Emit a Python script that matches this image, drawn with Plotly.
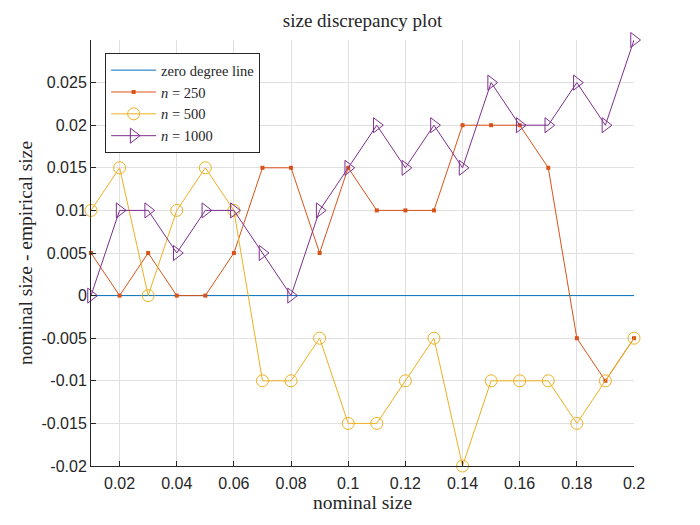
import plotly.graph_objects as go

nominal = [0.01, 0.02, 0.03, 0.04, 0.05, 0.06, 0.07, 0.08, 0.09, 0.10,
           0.11, 0.12, 0.13, 0.14, 0.15, 0.16, 0.17, 0.18, 0.19, 0.20]
zero_line = [0.0] * len(nominal)
n250 = [0.005, 0, 0.005, 0, 0, 0.005, 0.015, 0.015, 0.005, 0.015,
        0.01, 0.01, 0.01, 0.02, 0.02, 0.02, 0.015, -0.005, -0.01, -0.005]
n500 = [0.01, 0.015, 0, 0.01, 0.015, 0.01, -0.01, -0.01, -0.005, -0.015,
        -0.015, -0.01, -0.005, -0.02, -0.01, -0.01, -0.01, -0.015, -0.01, -0.005]
n1000 = [0, 0.01, 0.01, 0.005, 0.01, 0.01, 0.005, 0, 0.01, 0.015,
         0.02, 0.015, 0.02, 0.015, 0.025, 0.02, 0.02, 0.025, 0.02, 0.03]

xticks = [0.02, 0.04, 0.06, 0.08, 0.1, 0.12, 0.14, 0.16, 0.18, 0.2]
yticks = [-0.02, -0.015, -0.01, -0.005, 0, 0.005, 0.01, 0.015, 0.02, 0.025]

serif = "Liberation Serif"
sans = "Liberation Sans"

fig = go.Figure()
fig.add_trace(go.Scatter(x=nominal, y=zero_line, mode="lines", name="zero degree line",
                         line=dict(color="#0072BD", width=1), cliponaxis=False))
fig.add_trace(go.Scatter(x=nominal, y=n250, mode="lines+markers", name="<i>n</i> = 250",
                         line=dict(color="#D95319", width=1), cliponaxis=False,
                         marker=dict(symbol="square", size=4, color="#D95319")))
fig.add_trace(go.Scatter(x=nominal, y=n500, mode="lines+markers", name="<i>n</i> = 500",
                         line=dict(color="#EDB120", width=1), cliponaxis=False,
                         marker=dict(symbol="circle-open", size=12, color="#EDB120",
                                     line=dict(width=1))))
fig.add_trace(go.Scatter(x=nominal, y=n1000, mode="lines+markers", name="<i>n</i> = 1000",
                         line=dict(color="#7E2F8E", width=1), cliponaxis=False,
                         marker=dict(symbol="triangle-right-open", size=13, color="#7E2F8E",
                                     line=dict(width=1))))

fig.update_layout(
    width=700, height=525,
    margin=dict(l=83, r=74, t=32, b=67),
    paper_bgcolor="white", plot_bgcolor="white",
    title=dict(text="size discrepancy plot", x=(83 + 543 / 2) / 700, xanchor="center",
               y=0.977, yanchor="middle", font=dict(family=serif, size=19, color="#262626")),
    showlegend=True,
    legend=dict(x=0.026, y=0.969, xanchor="left", yanchor="top",
                bordercolor="#262626", borderwidth=1, bgcolor="white",
                font=dict(family=serif, size=14.5, color="#262626"),
                tracegroupgap=0, itemwidth=45),
)

fig.update_xaxes(
    range=[0.01, 0.2], tickvals=xticks, ticktext=[("%g" % v) for v in xticks],
    ticks="inside", ticklen=5, tickcolor="#262626", ticklabelstandoff=3,
    showline=True, linecolor="#262626", linewidth=1,
    showgrid=True, gridcolor="#e0e0e0", gridwidth=1, zeroline=False,
    tickfont=dict(family=sans, size=16, color="#262626"),
    title=dict(text="nominal size", font=dict(family=serif, size=19.5, color="#262626"), standoff=4),
)
fig.update_yaxes(
    range=[-0.02, 0.03], tickvals=yticks, ticktext=[("%g" % v) for v in yticks],
    ticks="inside", ticklen=5, tickcolor="#262626",
    showline=True, linecolor="#262626", linewidth=1,
    showgrid=True, gridcolor="#e0e0e0", gridwidth=1, zeroline=False,
    tickfont=dict(family=sans, size=16, color="#262626"),
    title=dict(text="nominal size - empirical size", font=dict(family=serif, size=19.5, color="#262626"), standoff=3),
)

fig.write_html("out.html")
